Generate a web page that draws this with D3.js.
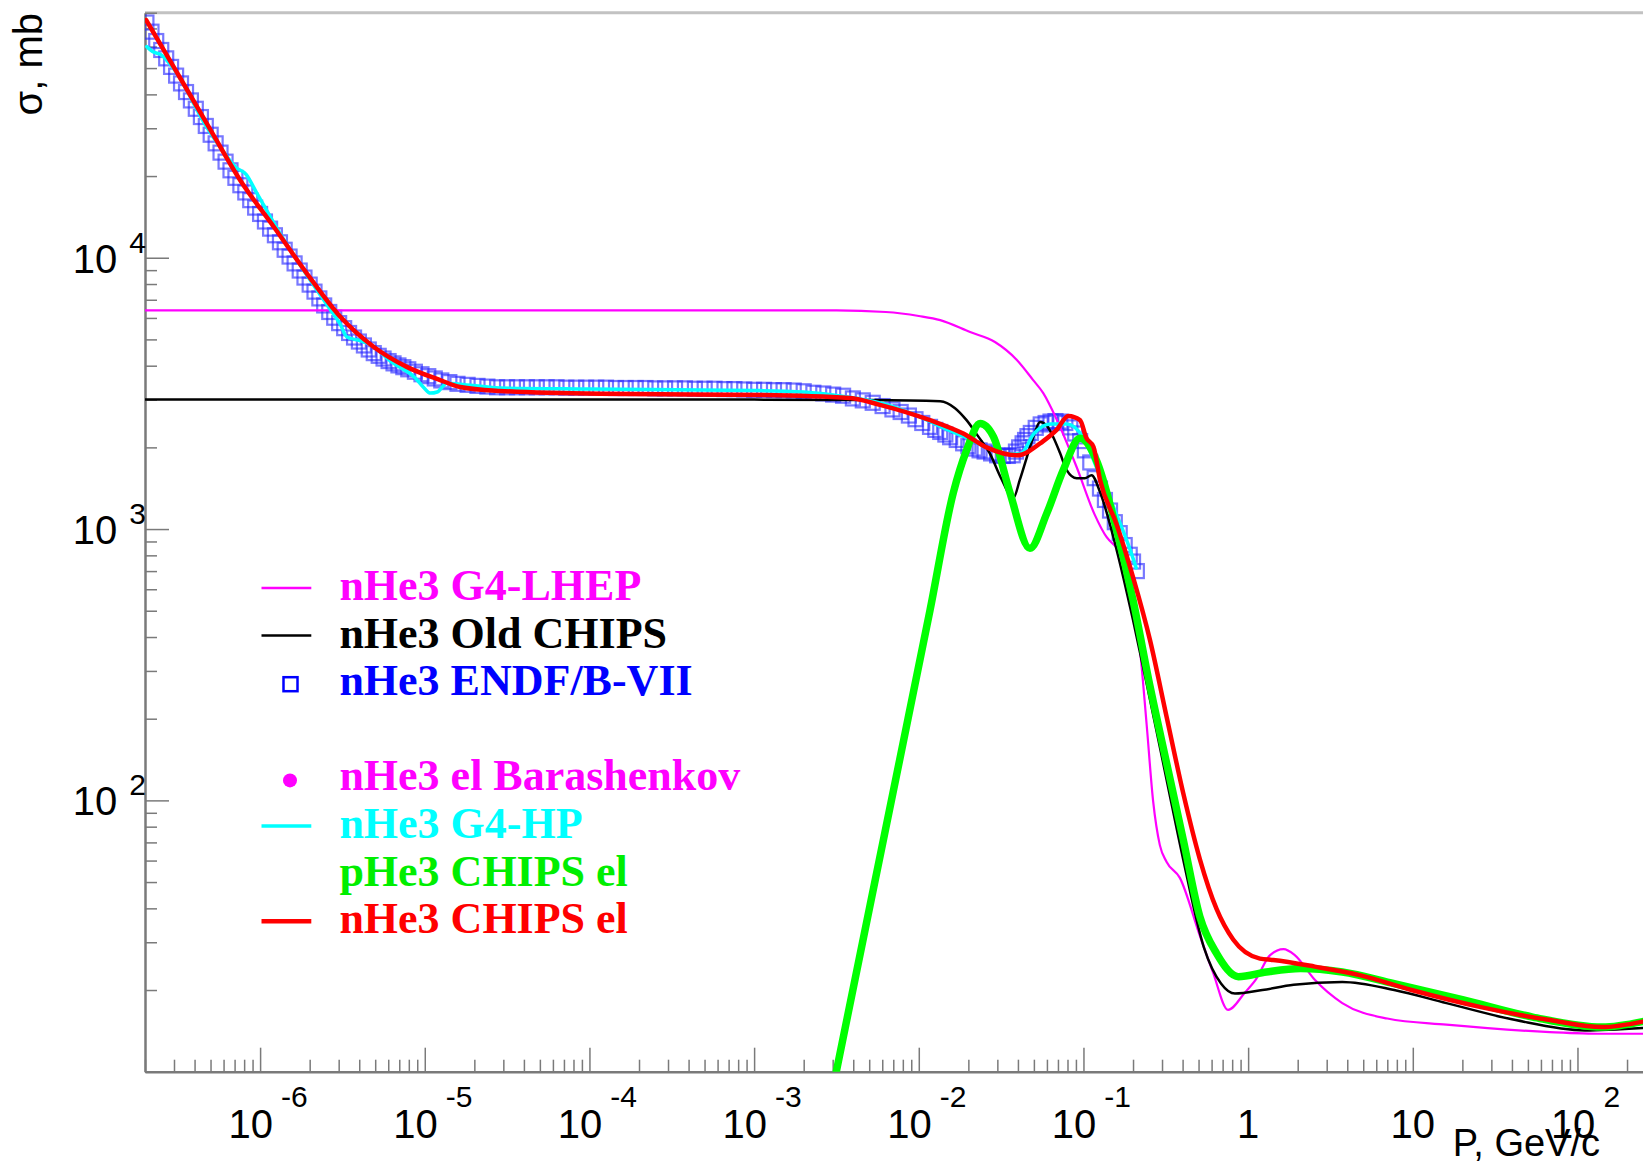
<!DOCTYPE html>
<html><head><meta charset="utf-8">
<script src="https://cdn.jsdelivr.net/npm/d3@7"></script>
<style>html,body{margin:0;padding:0;background:#fff;} svg{display:block;}</style>
</head><body>
<svg id="chart" width="1643" height="1166"></svg>
<script>
// ---------------- DATA (P in GeV/c, sigma in mb) ----------------
// nHe3 G4-LHEP (magenta)
const lhepP = [2.0e-7,1.0e-4,3.16e-3,6.31e-3,1.0e-2,1.35e-2,2.05e-2,2.90e-2,3.94e-2,4.95e-2,5.70e-2,6.87e-2,9.10e-2,1.17e-1,1.38e-1,1.59e-1,1.79e-1,1.95e-1,2.08e-1,2.20e-1,2.42e-1,2.65e-1,2.91e-1,3.20e-1,3.85e-1,5.09e-1,6.11e-1,7.55e-1,9.57e-1,1.11,1.36,1.64,1.92,2.54,3.73,7.00,16.0,67.9,141,249];
const lhepSigma = [6400,6400,6400,6310,6100,5890,5320,4890,4200,3540,3170,2540,1690,1130,935,855,782,649,482,364,190,99.1,68.4,59.3,51.8,31.7,23.3,16.9,19.6,21.8,26.9,28.3,26.9,21.8,17.9,15.7,14.9,14.0,13.8,13.8];

// nHe3 Old CHIPS (black)
const oldP = [2.0e-7,1.0e-4,1.0e-3,5.0e-3,1.35e-2,1.66e-2,1.95e-2,2.29e-2,2.70e-2,3.16e-2,3.75e-2,4.11e-2,4.52e-2,4.93e-2,5.45e-2,6.00e-2,6.56e-2,7.20e-2,7.91e-2,9.10e-2,1.02e-1,1.12e-1,1.26e-1,1.59e-1,2.00e-1,2.54e-1,3.20e-1,4.04e-1,5.38e-1,6.86e-1,8.32e-1,1.22,1.89,3.73,7.71,16.0,42.1,111,249];
const oldSigma = [3000,3000,3000,2990,2960,2790,2520,2200,1900,1540,1300,1520,1830,2160,2480,2400,2180,1910,1650,1540,1540,1580,1370,838,462,234,119,60.3,28.8,21.1,19.4,20.0,20.9,21.4,20.0,17.9,15.5,14.2,14.5];

// nHe3 ENDF/B-VII (blue open squares)
const endfP = [2.04e-7,2.19e-7,2.34e-7,2.51e-7,2.69e-7,2.88e-7,3.09e-7,3.31e-7,3.55e-7,3.80e-7,4.07e-7,4.37e-7,4.68e-7,5.01e-7,5.37e-7,5.75e-7,6.17e-7,6.61e-7,7.08e-7,7.59e-7,8.13e-7,8.71e-7,9.33e-7,1.00e-6,1.07e-6,1.15e-6,1.23e-6,1.32e-6,1.41e-6,1.51e-6,1.62e-6,1.74e-6,1.86e-6,2.00e-6,2.14e-6,2.29e-6,2.45e-6,2.63e-6,2.82e-6,3.02e-6,3.24e-6,3.47e-6,3.72e-6,3.98e-6,4.27e-6,4.57e-6,4.90e-6,5.25e-6,5.62e-6,6.03e-6,6.46e-6,6.92e-6,7.41e-6,7.94e-6,
  8.71e-6,9.55e-6,1.05e-5,1.15e-5,1.26e-5,1.41e-5,1.58e-5,1.82e-5,2.09e-5,2.40e-5,2.75e-5,
  3.16e-5,3.63e-5,4.17e-5,4.79e-5,5.50e-5,6.31e-5,7.24e-5,8.32e-5,9.55e-5,1.10e-4,1.26e-4,1.45e-4,1.66e-4,1.91e-4,2.19e-4,2.51e-4,2.88e-4,3.31e-4,3.80e-4,4.37e-4,5.01e-4,5.75e-4,6.61e-4,7.59e-4,8.71e-4,1.00e-3,1.15e-3,1.32e-3,1.51e-3,1.74e-3,
  2.00e-3,2.29e-3,2.63e-3,3.02e-3,3.47e-3,3.98e-3,4.57e-3,5.25e-3,6.03e-3,6.92e-3,7.76e-3,8.71e-3,9.55e-3,1.05e-2,1.17e-2,1.26e-2,1.35e-2,1.45e-2,1.55e-2,1.70e-2,1.86e-2,2.00e-2,2.19e-2,2.34e-2,2.51e-2,2.75e-2,2.99e-2,3.24e-2,3.47e-2,3.72e-2,3.89e-2,4.07e-2,4.27e-2,4.42e-2,4.57e-2,4.79e-2,5.13e-2,5.50e-2,5.89e-2,6.31e-2,6.76e-2,7.24e-2,7.76e-2,8.32e-2,8.91e-2,9.55e-2,1.02e-1,1.10e-1,1.17e-1,1.26e-1,1.35e-1,1.45e-1,1.55e-1,1.66e-1,1.78e-1,1.91e-1,2.00e-1,2.11e-1];
const endfSigma = [73600,68100,62900,58300,54300,50500,46900,43900,40800,38000,35400,33000,30600,28400,26400,24400,22600,21000,19700,18500,17400,16300,15300,14500,13600,12800,12100,11400,10700,10100,9530,8970,8450,7960,7500,7080,6670,6310,6010,5740,5500,5280,5080,4910,4750,4590,4450,4350,4250,4160,4080,4010,3950,3880,
  3800,3720,3660,3590,3530,3480,3430,3400,3370,3350,3330,
  3330,3330,3330,3330,3330,3330,3320,3320,3320,3320,3320,3310,3310,3310,3310,3300,3300,3300,3300,3290,3290,3290,3280,3280,3270,3260,3260,3250,3250,3240,
  3220,3180,3160,3130,3100,3030,2980,2920,2840,2760,2700,2620,2540,2460,2380,2320,2280,2230,2180,2130,2070,2020,1980,1950,1930,1900,1870,1860,1860,1870,1930,2000,2070,2130,2200,2260,2360,2430,2460,2490,2500,2490,2460,2370,2250,2110,1950,1760,1540,1410,1280,1170,1060,966,873,804,759,700];

// nHe3 el Barashenkov (magenta dots) - no points inside the plotted range
const barP = [];
const barSigma = [];

// nHe3 G4-HP (cyan)
const hpP = [2.05e-7,2.25e-7,2.50e-7,3.0e-7,4.74e-7,5.87e-7,7.14e-7,8.22e-7,9.46e-7,1.32e-6,1.93e-6,2.55e-6,3.06e-6,3.37e-6,3.88e-6,4.47e-6,6.43e-6,8.73e-6,9.91e-6,1.08e-5,1.19e-5,1.36e-5,1.64e-5,2.86e-5,1.0e-4,1.0e-3,2.0e-3,3.98e-3,6.31e-3,1.0e-2,1.58e-2,2.0e-2,2.57e-2,3.72e-2,4.17e-2,5.01e-2,6.31e-2,7.94e-2,1.0e-1,1.26e-1,1.58e-1,1.91e-1,2.09e-1];
const hpSigma = [60000,57300,56000,49500,30300,25000,21500,20300,17500,12300,8600,6700,5700,5100,4980,4850,4090,3610,3310,3170,3200,3450,3420,3310,3280,3240,3200,3050,2880,2600,2290,2160,2000,1890,1900,2250,2440,2440,2170,1570,1140,847,719];

// pHe3 CHIPS el (green)
const pChipsP = [3.0e-3,5.06e-3,7.69e-3,1.17e-2,1.62e-2,1.95e-2,2.36e-2,2.84e-2,3.58e-2,4.73e-2,5.98e-2,7.54e-2,9.53e-2,1.20e-1,1.59e-1,2.00e-1,2.54e-1,3.20e-1,4.04e-1,5.09e-1,6.43e-1,8.73e-1,1.29,2.08,3.73,7.71,20.3,53.5,141,249];
const pChipsSigma = [8.6,41.1,143,502,1360,1950,2450,2190,1360,849,1140,1650,2160,1790,991,547,262,137,71.4,37.3,27.3,22.4,23.3,24.0,23.3,21.1,18.4,15.9,14.6,15.3];

// nHe3 CHIPS el (red)
const nChipsP = [2.03e-7,2.98e-7,4.74e-7,7.57e-7,1.21e-6,1.92e-6,3.06e-6,4.88e-6,7.78e-6,1.24e-5,1.64e-5,2.86e-5,1.16e-4,1.09e-3,3.82e-3,5.81e-3,1.17e-2,1.86e-2,2.58e-2,3.94e-2,5.70e-2,6.87e-2,8.09e-2,9.53e-2,1.04e-1,1.15e-1,1.26e-1,1.59e-1,2.00e-1,2.54e-1,3.20e-1,4.04e-1,5.09e-1,6.43e-1,8.11e-1,1.18,1.42,2.54,4.75,9.82,25.9,68.1,141,249];
const nChipsSigma = [75200,50600,31300,19300,13000,8760,6070,4700,3960,3540,3340,3230,3150,3120,3040,2870,2520,2250,2000,1870,2110,2320,2610,2520,2170,2010,1520,1040,665,388,203,106,60.8,39.8,30.7,26.1,25.8,24.4,22.7,20.0,17.3,15.5,14.6,15.3];

// Axis tick labels
const xLabelValues = [1e-6,1e-5,1e-4,1e-3,1e-2,1e-1,1,10,100];
const xLabelBases  = ["10","10","10","10","10","10","1","10","10"];
const xLabelExps   = ["-6","-5","-4","-3","-2","-1","","","2"];
const yLabelValues = [100,1000,10000];
const yLabelBases  = ["10","10","10"];
const yLabelExps   = ["2","3","4"];

// Legend
const legendLabels  = ["nHe3 G4-LHEP","nHe3 Old CHIPS","nHe3 ENDF/B-VII","","nHe3 el Barashenkov","nHe3 G4-HP","pHe3 CHIPS el","nHe3 CHIPS el"];
const legendColors  = ["#ff00ff","#000000","#0000ff","none","#ff00ff","#00ffff","#00ee00","#ff0000"];
const legendMarkers = ["line","line","square","none","dot","line","none","line"];
const legendWidths  = [2.5,2.5,2.5,0,0,3.5,0,4.5];

// ---------------- DRAWING ----------------
(function draw() {
const svg = d3.select("#chart");
const pL = 145, pR = 1643, pT = 12.7, pB = 1071.7;
const x = d3.scaleLog().domain([2e-7, 250]).range([pL, pR]);
const y = d3.scaleLog().domain([10, 80000]).range([pB, pT]);

svg.append("rect").attr("width",1643).attr("height",1166).attr("fill","#fff");

svg.append("defs").append("clipPath").attr("id","plotClip")
  .append("rect").attr("x",pL).attr("y",pT).attr("width",pR-pL+10).attr("height",pB-pT);

const isMajor = v => Math.abs(Math.log10(v) - Math.round(Math.log10(v))) < 1e-6;
const axisColor = "#7a7a7a";

// top frame line
svg.append("line").attr("x1",pL).attr("x2",pR).attr("y1",pT).attr("y2",pT)
  .attr("stroke","#c2c2c2").attr("stroke-width",3);

// X axis
const xAxisG = svg.append("g").attr("transform",`translate(0,${pB})`)
  .call(d3.axisBottom(x).tickValues(x.ticks(20)).tickSizeInner(-12).tickSizeOuter(0).tickFormat(""));
xAxisG.selectAll(".tick line").attr("y2", d => isMajor(d) ? -24 : -12)
  .attr("stroke",axisColor).attr("stroke-width",1.5);
xAxisG.select(".domain").attr("stroke",axisColor).attr("stroke-width",2.5);

// Y axis
const yAxisG = svg.append("g").attr("transform",`translate(${pL},0)`)
  .call(d3.axisLeft(y).tickValues(y.ticks(20)).tickSizeInner(-12).tickSizeOuter(0).tickFormat(""));
yAxisG.selectAll(".tick line").attr("x2", d => isMajor(d) ? 24 : 12)
  .attr("stroke",axisColor).attr("stroke-width",1.5);
yAxisG.select(".domain").attr("stroke",axisColor).attr("stroke-width",2.5);

const sansFont = "'Liberation Sans', Arial, Helvetica, sans-serif";

// X tick labels
const xl = svg.append("g").attr("font-family",sansFont).attr("fill","#000");
xLabelValues.forEach((v,i) => {
  const hasExp = xLabelExps[i] !== "";
  const t = xl.append("text")
    .attr("x", x(v) + (hasExp ? 8 : 0)).attr("y", 1138)
    .attr("text-anchor","middle");
  t.append("tspan").attr("font-size",40).text(xLabelBases[i]);
  if (hasExp) t.append("tspan").attr("font-size",30).attr("dx",8).attr("dy",-31).text(xLabelExps[i]);
});

// Y tick labels
const yl = svg.append("g").attr("font-family",sansFont).attr("fill","#000");
yLabelValues.forEach((v,i) => {
  const t = yl.append("text").attr("x", pL + 1).attr("y", y(v) + 15).attr("text-anchor","end");
  t.append("tspan").attr("font-size",40).text(yLabelBases[i]);
  t.append("tspan").attr("font-size",30).attr("dx",12).attr("dy",-20).text(yLabelExps[i]);
});

// Axis titles
svg.append("text").attr("transform","translate(41.7,13) rotate(-90)")
  .attr("text-anchor","end").attr("font-family",sansFont).attr("font-size",40).text("σ, mb");
svg.append("text").attr("x",1600).attr("y",1156).attr("text-anchor","end")
  .attr("font-family",sansFont).attr("font-size",38).text("P, GeV/c");

// Plot area
const plot = svg.append("g").attr("clip-path","url(#plotClip)");
const toPts = (P,S) => P.map((p,i) => [p, S[i]]);
const line = d3.line().x(d => x(d[0])).y(d => y(d[1])).curve(d3.curveMonotoneX);

// ENDF squares
const sq = 14;
plot.append("g").selectAll("rect").data(toPts(endfP, endfSigma)).join("rect")
  .attr("x", d => x(d[0]) - sq/2).attr("y", d => y(d[1]) - sq/2)
  .attr("width", sq).attr("height", sq)
  .attr("fill","none").attr("stroke","#2525ff").attr("stroke-width",2.2).attr("stroke-opacity",0.62);

// Barashenkov dots (none in range)
plot.append("g").selectAll("circle").data(toPts(barP, barSigma)).join("circle")
  .attr("cx", d => x(d[0])).attr("cy", d => y(d[1])).attr("r",5).attr("fill","#ff00ff");

const series = [
  {P: lhepP, S: lhepSigma, color: "#ff00ff", w: 2.2},
  {P: oldP, S: oldSigma, color: "#000000", w: 2.5},
  {P: hpP, S: hpSigma, color: "#00ffff", w: 3.5},
  {P: pChipsP, S: pChipsSigma, color: "#00ff00", w: 7.5},
  {P: nChipsP, S: nChipsSigma, color: "#ff0000", w: 4.5}
];
series.forEach(s => {
  plot.append("path").datum(toPts(s.P, s.S)).attr("d", line)
    .attr("fill","none").attr("stroke", s.color).attr("stroke-width", s.w)
    .attr("stroke-linejoin","round").attr("stroke-linecap","round");
});

// Legend
const lg = svg.append("g");
legendLabels.forEach((lab,i) => {
  const by = 600 + i*47.6;
  const c = legendColors[i];
  if (legendMarkers[i] === "line") {
    lg.append("line").attr("x1",261.5).attr("x2",311.3).attr("y1",by-12).attr("y2",by-12)
      .attr("stroke",c).attr("stroke-width",legendWidths[i]);
  } else if (legendMarkers[i] === "square") {
    lg.append("rect").attr("x",290.5-7).attr("y",by-11-7).attr("width",14).attr("height",14)
      .attr("fill","none").attr("stroke",c).attr("stroke-width",legendWidths[i]);
  } else if (legendMarkers[i] === "dot") {
    lg.append("circle").attr("cx",290).attr("cy",by-10).attr("r",7).attr("fill",c);
  }
  if (lab) {
    lg.append("text").attr("x",339.4).attr("y",by)
      .attr("font-family","'Liberation Serif', 'Times New Roman', serif").attr("font-weight","bold")
      .attr("font-size",44).attr("fill",c).text(lab);
  }
});
})();
</script>
</body></html>
